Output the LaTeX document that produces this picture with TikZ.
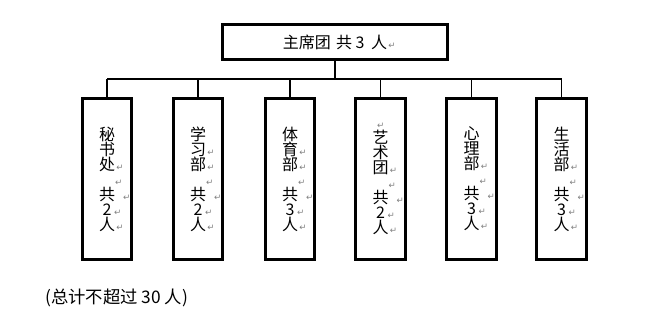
\documentclass[tikz,border=0pt]{standalone}
\usepackage{fontspec}
\setmainfont{Noto Sans CJK SC}
\newfontfamily\markfont{DejaVu Sans}
\definecolor{markgray}{gray}{0.5}
\newcommand\pmk[1][1pt]{\rlap{\hspace{#1}\textcolor{markgray}{\markfont\fontsize{6.5pt}{7pt}\selectfont ↵}}}

\begin{document}
\begin{tikzpicture}[x=0.75pt,y=-0.75pt,line join=miter,every node/.style={inner sep=0pt},
  headbox/.style={draw,line width=2.25pt,minimum width=168.75pt,minimum height=26.25pt,font=\fontsize{12pt}{13pt}\selectfont},
  unitbox/.style={draw,line width=2.25pt,minimum width=37pt,minimum height=120.75pt,align=center,font=\fontsize{12pt}{11.25pt}\selectfont},
  wire/.style={line width=0.9pt}]
  \useasboundingbox (0,0) rectangle (652,326);
  \def\yu{179}
  \node[headbox] (zxt) at (335,42) {\raisebox{-4.5pt}{主席团\hspace{4pt}共\hspace{2.5pt}3\hspace{5pt}人\pmk}};
  \node[unitbox] (msc) at (107,\yu) {秘\\书\\处\pmk\\\pmk[6pt]\\共\pmk[6pt]\\2\pmk[2pt]\\人\pmk};
  \node[unitbox] (xxb) at (198,\yu) {学\\习\pmk\\部\pmk\\\pmk[6pt]\\共\pmk[6pt]\\2\pmk[2pt]\\人\pmk};
  \node[unitbox] (tyb) at (290,\yu) {体\\育\pmk\\部\pmk\\\pmk[6pt]\\共\pmk[6pt]\\3\pmk[2pt]\\人\pmk};
  \node[unitbox] (yst) at (380.5,\yu) {\pmk[-2.5pt]\\艺\\术\\团\pmk\\\pmk[6pt]\\共\pmk[6pt]\\2\pmk[2pt]\\人\pmk};
  \node[unitbox] (xlb) at (471.5,\yu) {心\\理\\部\pmk\\\pmk[6pt]\\共\pmk[6pt]\\3\pmk[2pt]\\人\pmk};
  \node[unitbox] (shb) at (561.5,\yu) {生\\活\\部\pmk\\\pmk[6pt]\\共\pmk[6pt]\\3\pmk[2pt]\\人\pmk};
  \coordinate (bus) at (335,79);
  \draw[wire] (zxt.south) -- (bus);
  \draw[wire] (msc.north |- bus) -- (shb.north |- bus);
  \foreach \n in {msc,xxb,tyb,yst,xlb,shb}
    \draw[wire] (\n.north |- bus) -- (\n.north);
  \node[anchor=west,font=\fontsize{13pt}{14pt}\selectfont] (note) at (45,298) {(总计不超过 30 人)};
\end{tikzpicture}
\end{document}
